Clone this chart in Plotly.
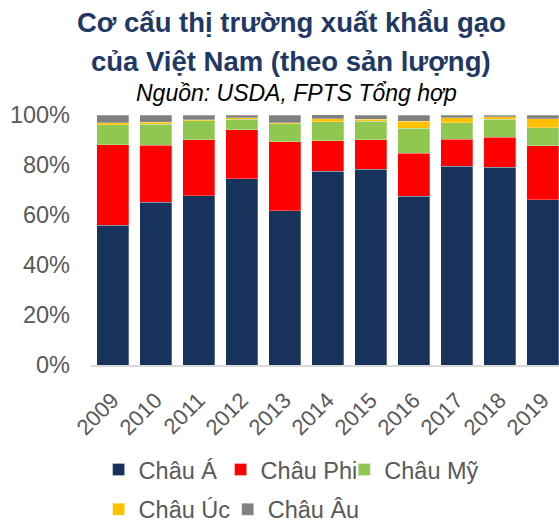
import plotly.graph_objects as go

years = ["2009", "2010", "2011", "2012", "2013", "2014", "2015", "2016", "2017", "2018", "2019"]
chau_a = [55.9, 65.1, 67.7, 74.5, 61.7, 77.5, 78.3, 67.6, 79.5, 79.1, 66.1]
chau_phi = [32.2, 22.9, 22.4, 19.6, 27.6, 12.3, 11.9, 17.1, 10.9, 12.0, 21.7]
chau_my = [8.0, 8.3, 7.6, 4.3, 7.2, 7.6, 7.3, 10.1, 6.5, 7.2, 7.2]
chau_uc = [0.8, 0.9, 0.5, 0.5, 0.4, 1.1, 0.9, 2.7, 2.0, 1.0, 3.5]
chau_au = [3.1, 2.8, 1.7, 1.1, 3.1, 1.6, 1.6, 2.5, 1.1, 0.7, 1.5]

names = ["Châu Á", "Châu Phi", "Châu Mỹ", "Châu Úc", "Châu Âu"]
values = [chau_a, chau_phi, chau_my, chau_uc, chau_au]
colors = ["#17335C", "#FF0000", "#8FC751", "#FFC000", "#808080"]

FONT = "Liberation Sans, Arial, sans-serif"
TXT = "#595959"

W, H = 559, 524
ML, MR, MT, MB = 91, 0, 115, 159
plot_w = W - ML - MR
plot_h = H - MT - MB


def px_to_paper(xp, yp):
    return (xp - ML) / plot_w, (H - MB - yp) / plot_h


# legend anchor positions in pixels (one legend box per entry)
legend_px = [(98.6, 469.7), (220.6, 469.7), (344.3, 469.7), (98.6, 509.5), (227.7, 509.5)]
legend_ids = ["legend", "legend2", "legend3", "legend4", "legend5"]

fig = go.Figure()
for name, vals, color, lid in zip(names, values, colors, legend_ids):
    fig.add_trace(go.Bar(
        x=years, y=vals, name=name, legend=lid, showlegend=True,
        marker=dict(color=color, line=dict(color="rgba(255,255,255,0.35)", width=0.8)),
    ))

title_specs = [
    ("<b>Cơ cấu thị trường xuất khẩu gạo</b>", 291, 23, 27.5, "#1F3864"),
    ("<b>của Việt Nam (theo sản lượng)</b>", 291, 61, 27.5, "#1F3864"),
    ("<i>Nguồn: USDA, FPTS Tổng hợp</i>", 296, 93, 23, "#000000"),
]
annotations = []
for text, cx, cy, size, color in title_specs:
    ax, ay = px_to_paper(cx, cy)
    annotations.append(dict(
        text=text, x=ax, y=ay, xref="paper", yref="paper",
        xanchor="center", yanchor="middle", showarrow=False,
        font=dict(size=size, color=color, family=FONT),
    ))

legends = {}
for lid, (lxp, lyp) in zip(legend_ids, legend_px):
    lx, ly = px_to_paper(lxp, lyp)
    legends[lid] = dict(
        orientation="h", xref="paper", yref="paper", x=lx, y=ly,
        xanchor="left", yanchor="middle",
        font=dict(size=23.5, color=TXT), itemwidth=30,
        bgcolor="rgba(0,0,0,0)", visible=True,
    )

fig.update_layout(
    width=W, height=H,
    showlegend=True,
    barmode="stack", bargap=0.256,
    plot_bgcolor="white", paper_bgcolor="white",
    margin=dict(l=ML, r=MR, t=MT, b=MB, autoexpand=False),
    font=dict(family=FONT, color=TXT),
    xaxis=dict(
        range=[-0.5, 10.38], tickangle=-45,
        tickfont=dict(size=22, color=TXT),
        showline=True, linecolor="#D9D9D9", linewidth=1.5,
        showgrid=False, ticks="", ticklabelstandoff=12,
    ),
    yaxis=dict(
        range=[0, 100], tickvals=[0, 20, 40, 60, 80, 100],
        ticktext=["0%", "20%", "40%", "60%", "80%", "100%"],
        tickfont=dict(size=23.5, color=TXT),
        showgrid=False, showline=False, zeroline=False,
        ticklabelstandoff=20,
    ),
    annotations=annotations,
    **legends,
)

fig.write_html(
    "out.html",
    config={"displayModeBar": False},
    post_script="document.body.style.margin='0';document.body.style.overflow='hidden';",
)
